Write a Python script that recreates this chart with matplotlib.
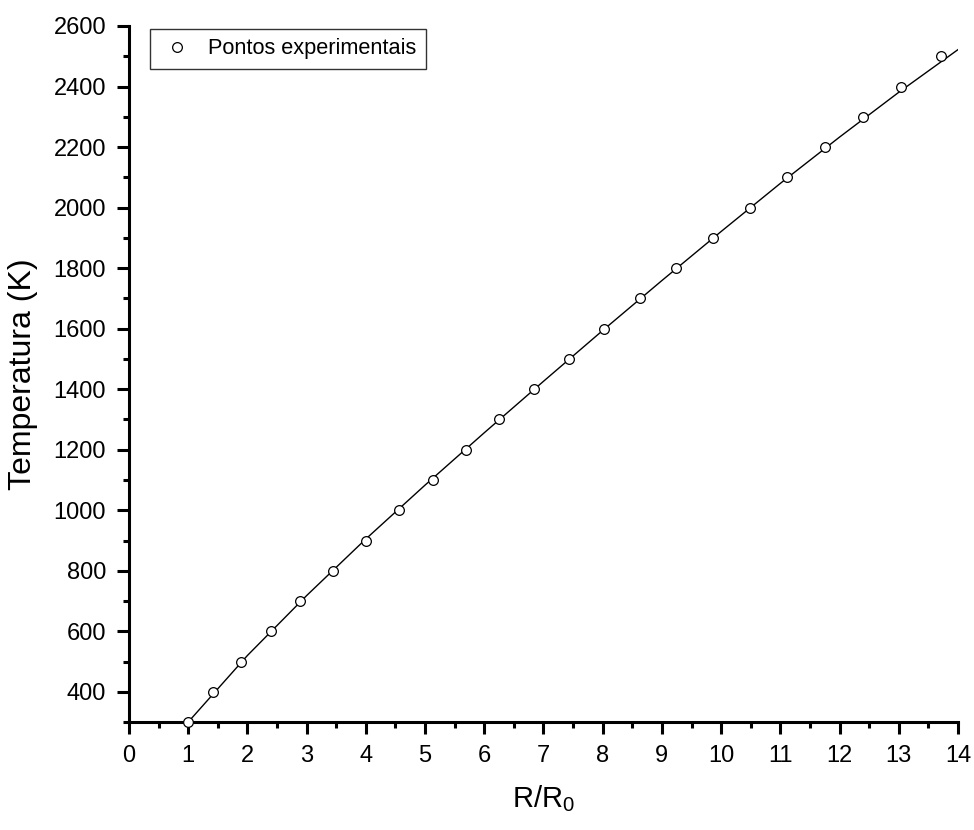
import matplotlib
matplotlib.use("Agg")
import matplotlib.pyplot as plt
from matplotlib.ticker import MultipleLocator

plt.rcParams['font.family'] = ['Liberation Sans', 'DejaVu Sans']
plt.rcParams['mathtext.fontset'] = 'custom'
plt.rcParams['mathtext.rm'] = 'Liberation Sans'
plt.rcParams['mathtext.it'] = 'Liberation Sans'

# Experimental points: R/R0 vs temperature
r_ratio = [1.00, 1.42, 1.90, 2.40, 2.89, 3.45, 4.00, 4.56, 5.13, 5.69, 6.25, 6.84,
           7.43, 8.02, 8.63, 9.24, 9.86, 10.48, 11.12, 11.76, 12.39, 13.04, 13.71]
temp = [300, 400, 500, 600, 700, 800, 900, 1000, 1100, 1200, 1300, 1400,
        1500, 1600, 1700, 1800, 1900, 2000, 2100, 2200, 2300, 2400, 2500]

# Fitted curve
fit_x = [1, 2, 3, 4, 5, 6, 7, 8, 9, 10, 11, 12, 13, 14]
fit_t = [300, 520, 718, 905, 1083, 1256, 1426, 1594, 1759, 1921, 2080, 2233, 2381, 2522]

fig = plt.figure(figsize=(9.74, 8.30), dpi=100)
ax = fig.add_axes([0.1324, 0.130, 0.8512, 0.8387])

ax.plot(fit_x, fit_t, color='black', lw=1.0, zorder=2)
ax.plot(r_ratio, temp, 'o', ms=7, mfc='white', mec='black', mew=0.9,
        label='Pontos experimentais', zorder=3, clip_on=False)

ax.set_xlim(0, 14)
ax.set_ylim(300, 2600)
ax.xaxis.set_major_locator(MultipleLocator(1))
ax.xaxis.set_minor_locator(MultipleLocator(0.5))
ax.yaxis.set_minor_locator(MultipleLocator(100))
ax.set_yticks(range(400, 2601, 200))

for side in ['top', 'right']:
    ax.spines[side].set_visible(False)
for side in ['left', 'bottom']:
    ax.spines[side].set_linewidth(2.2)

ax.tick_params(which='major', direction='out', length=8.5, width=2.2,
               labelsize=17, pad=8)
ax.tick_params(which='minor', direction='out', length=4.5, width=2.2)

ax.set_xlabel('R/R$_0$', fontsize=21, labelpad=12)
ax.set_ylabel('Temperatura (K)', fontsize=23, labelpad=11)

leg = ax.legend(loc='upper left', bbox_to_anchor=(0.012, 1.012), fontsize=15.7,
                frameon=True, fancybox=False, edgecolor='black',
                handletextpad=0.6, borderpad=0.45, handlelength=1.6)
leg.get_frame().set_linewidth(1.0)

fig.savefig("out.png", dpi=100)
